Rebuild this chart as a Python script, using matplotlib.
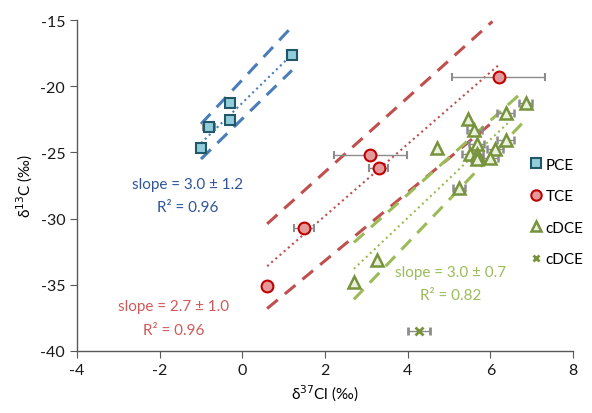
import matplotlib
matplotlib.use("Agg")
import matplotlib.pyplot as plt
from matplotlib.lines import Line2D

plt.rcParams["font.family"] = ["Lato", "DejaVu Sans"]
plt.rcParams["axes.unicode_minus"] = False

# measured points: delta 37Cl (x), delta 13C (y), horizontal error
pce_x = [1.2, -0.3, -0.3, -0.8, -1.0]
pce_y = [-17.6, -21.3, -22.55, -23.1, -24.7]
pce_xerr = [0.12, 0.1, 0.1, 0.15, 0.1]

tce_x = [6.2, 3.1, 3.3, 1.5, 0.6]
tce_y = [-19.3, -25.2, -26.2, -30.7, -35.1]
tce_xerr = [1.12, 0.88, 0.23, 0.24, 0.0]

dce_x = [6.85, 6.37, 5.45, 5.61, 4.71, 6.37, 5.67, 6.11, 5.51, 5.67, 5.67, 5.99, 5.24, 3.26, 2.70]
dce_y = [-21.3, -22.0, -22.5, -23.3, -24.7, -24.05, -24.4, -24.75, -25.1, -25.1, -25.5, -25.4, -27.7, -33.1, -34.8]
dce_xerr = [0.15, 0.2, 0.0, 0.18, 0.0, 0.2, 0.18, 0.2, 0.2, 0.15, 0.15, 0.2, 0.15, 0.0, 0.0]

dce2_x = [4.28]
dce2_y = [-38.5]
dce2_xerr = [0.27]

# regression lines (dotted) and confidence bounds (dashed): end points
pce_fit_x = [-1.0, 1.2]
pce_fit_y = [-24.3, -17.6]
pce_hi_y = [-22.85, -15.5]
pce_lo_y = [-25.5, -18.8]

tce_fit_x = [0.6, 6.2]
tce_fit_y = [-33.6, -18.4]
tce_hi_x = [0.6, 6.05]
tce_hi_y = [-30.4, -15.1]
tce_lo_x = [0.6, 6.0]
tce_lo_y = [-36.8, -22.85]

dce_fit_x = [2.7, 6.45]
dce_fit_y = [-33.8, -22.7]
dce_hi_x = [2.7, 6.75]
dce_hi_y = [-31.8, -20.5]
dce_lo_x = [2.7, 6.8]
dce_lo_y = [-36.1, -22.7]

blue_line = "#4A7EBB"
red_line = "#C0504D"
green_line = "#9BBB59"

pce_style = dict(marker="s", ms=7.5, mfc="#92CDDC", mec="#215867", mew=1.5)
tce_style = dict(marker="o", ms=8.5, mfc="#E39A9A", mec="#C00000", mew=1.5)
dce_style = dict(marker="^", ms=8.5, mfc="#EBF1DE", mec="#77933C", mew=1.8)
dce2_style = dict(marker="x", ms=6, mfc="none", mec="#77933C", mew=2.0)

fig = plt.figure(figsize=(5.92, 4.14), dpi=100)
ax = fig.add_axes([0.130, 0.150, 0.838, 0.799])

dash = (0, (4.5, 3.0))
ax.plot(pce_fit_x, pce_fit_y, ls=":", color=blue_line, lw=1.5)
ax.plot(pce_fit_x, pce_hi_y, ls=dash, color=blue_line, lw=2.2)
ax.plot(pce_fit_x, pce_lo_y, ls=dash, color=blue_line, lw=2.2)

ax.plot(tce_fit_x, tce_fit_y, ls=":", color=red_line, lw=1.5)
ax.plot(tce_hi_x, tce_hi_y, ls=dash, color=red_line, lw=2.2)
ax.plot(tce_lo_x, tce_lo_y, ls=dash, color=red_line, lw=2.2)

ax.plot(dce_fit_x, dce_fit_y, ls=":", color=green_line, lw=1.5)
ax.plot(dce_hi_x, dce_hi_y, ls=dash, color=green_line, lw=2.2)
ax.plot(dce_lo_x, dce_lo_y, ls=dash, color=green_line, lw=2.2)

err_kw = dict(ecolor="#8C8C8C", elinewidth=1.0, capsize=3, capthick=1.0, ls="none")

ax.errorbar(pce_x, pce_y, xerr=pce_xerr, zorder=4, **pce_style, **err_kw)
ax.errorbar(tce_x, tce_y, xerr=tce_xerr, zorder=4, **tce_style, **err_kw)
ax.errorbar(dce_x, dce_y, xerr=dce_xerr, zorder=4, **dce_style, **err_kw)
ax.errorbar(dce2_x, dce2_y, xerr=dce2_xerr, zorder=4, **dce2_style, **err_kw)

ax.text(-1.33, -27.4, "slope = 3.0 ± 1.2", color="#2F5597", fontsize=11,
        ha="center", va="center")
ax.text(-1.33, -29.1, "R² = 0.96", color="#2F5597", fontsize=11,
        ha="center", va="center")
ax.text(-1.66, -36.6, "slope = 2.7 ± 1.0", color="#D05A5A", fontsize=11,
        ha="center", va="center")
ax.text(-1.66, -38.4, "R² = 0.96", color="#D05A5A", fontsize=11,
        ha="center", va="center")
ax.text(5.04, -34.0, "slope = 3.0 ± 0.7", color="#9BBB59", fontsize=11,
        ha="center", va="center")
ax.text(5.04, -35.8, "R² = 0.82", color="#9BBB59", fontsize=11,
        ha="center", va="center")

ax.set_xlim(-4, 8)
ax.set_ylim(-40, -15)
ax.set_xticks(range(-4, 9, 2))
ax.set_yticks(range(-40, -14, 5))
for side in ("top", "right"):
    ax.spines[side].set_visible(False)
for side in ("left", "bottom"):
    ax.spines[side].set_color("#595959")
    ax.spines[side].set_linewidth(1.0)
ax.tick_params(direction="out", length=5, color="#595959", labelsize=11.5,
               labelcolor="#1a1a1a")
ax.set_xlabel("δ$^{37}$Cl (‰)", fontsize=11, labelpad=4)
ax.set_ylabel("δ$^{13}$C (‰)", fontsize=11, labelpad=4)

handles = [
    Line2D([], [], ls="none", **dict(pce_style, ms=6.5)),
    Line2D([], [], ls="none", **dict(tce_style, ms=7.5)),
    Line2D([], [], ls="none", **dict(dce_style, ms=7.5)),
    Line2D([], [], ls="none", **dict(dce2_style, ms=5)),
]
ax.legend(handles, ["PCE", "TCE", "cDCE", "cDCE"], loc="center left",
          bbox_to_anchor=(0.9, 0.42), frameon=False, fontsize=11,
          handlelength=0.8, handletextpad=0.25, labelspacing=1.15,
          borderaxespad=0)

fig.savefig("out.png", dpi=100)
